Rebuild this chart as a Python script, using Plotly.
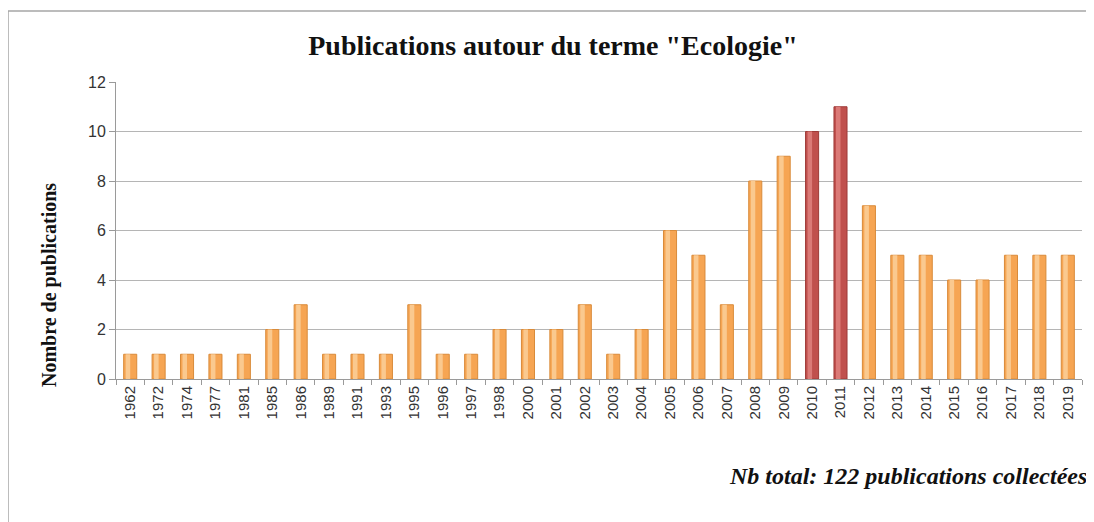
import plotly.graph_objects as go

years = ["1962", "1972", "1974", "1977", "1981", "1985", "1986", "1989", "1991", "1993",
         "1995", "1996", "1997", "1998", "2000", "2001", "2002", "2003", "2004", "2005",
         "2006", "2007", "2008", "2009", "2010", "2011", "2012", "2013", "2014", "2015",
         "2016", "2017", "2018", "2019"]
counts = [1, 1, 1, 1, 1, 2, 3, 1, 1, 1,
          3, 1, 1, 2, 2, 2, 3, 1, 2, 6,
          5, 3, 8, 9, 10, 11, 7, 5, 5, 4,
          4, 5, 5, 5]
highlight_years = ["2010", "2011"]
y_ticks = [0, 2, 4, 6, 8, 10, 12]

ORANGE = "#F6A553"
ORANGE_EDGE = "#D98B3A"
RED = "#C0504D"
RED_EDGE = "#9E3B38"

fill = [RED if y in highlight_years else ORANGE for y in years]
edge = [RED_EDGE if y in highlight_years else ORANGE_EDGE for y in years]
shine = ["#DB7A77" if y in highlight_years else "#FAC98F" for y in years]

fig = go.Figure()
fig.add_trace(go.Bar(
    x=years, y=counts,
    marker=dict(color=fill, line=dict(color=edge, width=1)),
    width=0.46, hoverinfo="x+y", name="Publications",
))
fig.add_trace(go.Bar(
    x=years, y=counts,
    marker=dict(color=shine, line=dict(width=0)),
    width=0.16, offset=-0.16, hoverinfo="skip", name="",
))

# page body has an 8px margin: work in screen coordinates and shift
OFF = 8
W, H = 1094 - OFF, 522 - OFF
L = 116 - OFF
T = 82 - OFF
R = W - (1082 - OFF)
B = H - (379 - OFF)
pw, ph = W - L - R, H - T - B

def px(x):
    return (x - OFF - L) / pw

def py(y):
    return (H - B - (y - OFF)) / ph

fig.add_shape(type="rect", xref="paper", yref="paper",
              x0=px(8), x1=px(1110), y0=py(540), y1=py(11),
              line=dict(color="#A6A6A6", width=1.5), fillcolor="rgba(0,0,0,0)", layer="below")

fig.update_layout(
    width=W, height=H,
    margin=dict(l=L, r=R, t=T, b=B),
    paper_bgcolor="white", plot_bgcolor="white",
    showlegend=False, barmode="overlay",
    title=dict(text='Publications autour du terme "Ecologie"',
               x=(553 - OFF) / W, xanchor="center", y=1 - (45 - OFF) / H, yanchor="middle",
               font=dict(family="Liberation Serif", size=28, color="#111111", weight="bold")),
    font=dict(family="Liberation Sans", color="#333333"),
)
fig.update_xaxes(
    type="category", tickangle=-90, tickfont=dict(size=15, color="#333333"),
    showline=True, linecolor="#9A9A9A", linewidth=1,
    ticks="outside", tickson="boundaries", ticklen=5, tickcolor="#9A9A9A",
    showgrid=False,
)
fig.update_yaxes(
    range=[0, 12], tickvals=y_ticks, tickfont=dict(size=16, color="#333333"),
    showline=True, linecolor="#9A9A9A", linewidth=1,
    ticks="outside", ticklen=6, tickcolor="#9A9A9A",
    showgrid=True, gridcolor="#B5B5B5", gridwidth=1, zeroline=False,
)
fig.add_annotation(
    text="<b>Nombre de publications</b>",
    xref="paper", yref="paper", x=px(49), y=py(285),
    xanchor="center", yanchor="middle", textangle=-90, showarrow=False,
    font=dict(family="Liberation Serif", size=20, color="#111111"),
)
fig.add_annotation(
    text="<b><i>Nb total: 122 publications collectées</i></b>",
    xref="paper", yref="paper", x=px(1089), y=py(476),
    xanchor="right", yanchor="middle", showarrow=False,
    font=dict(family="Liberation Serif", size=24, color="#111111"),
)

fig.write_html("out.html")
